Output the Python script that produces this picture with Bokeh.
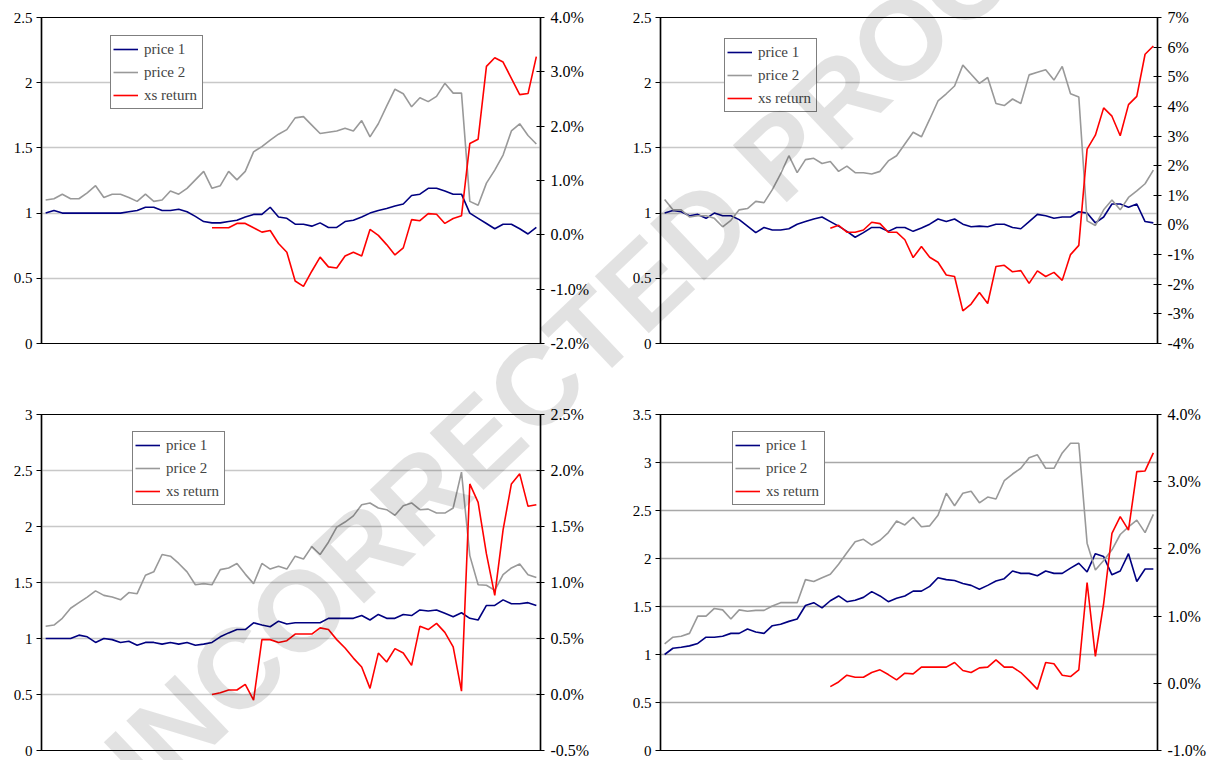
from bokeh.plotting import figure
from bokeh.models import (LinearAxis, Range1d, FixedTicker, PrintfTickFormatter,
                          CustomJSTickFormatter, Legend, LegendItem, Div)
from bokeh.layouts import gridplot, column
from bokeh.embed import file_html
from bokeh.resources import INLINE

# ---------------- data ----------------
months = list(range(60))
xs_months = list(range(20, 60))

p1_price1 = [1.00, 1.02, 1.00, 1.00, 1.00, 1.00, 1.00, 1.00, 1.00, 1.00,
             1.01, 1.02, 1.045, 1.045, 1.02, 1.02, 1.03, 1.01, 0.975, 0.935,
             0.925, 0.925, 0.935, 0.945, 0.97, 0.99, 0.99, 1.045, 0.97, 0.96,
             0.915, 0.915, 0.90, 0.925, 0.89, 0.89, 0.935, 0.945, 0.97, 1.00,
             1.02, 1.035, 1.055, 1.07, 1.135, 1.145, 1.19, 1.19, 1.17, 1.145,
             1.145, 1.00, 0.96, 0.92, 0.88, 0.915, 0.915, 0.88, 0.84, 0.89]
p1_price2 = [1.10, 1.11, 1.145, 1.11, 1.11, 1.155, 1.21, 1.12, 1.145, 1.145,
             1.12, 1.09, 1.145, 1.09, 1.10, 1.17, 1.145, 1.19, 1.255, 1.32,
             1.19, 1.21, 1.32, 1.255, 1.32, 1.47, 1.51, 1.56, 1.605, 1.64,
             1.73, 1.74, 1.675, 1.61, 1.62, 1.63, 1.65, 1.63, 1.71, 1.585,
             1.685, 1.82, 1.95, 1.915, 1.815, 1.885, 1.855, 1.895, 1.995, 1.92,
             1.92, 1.09, 1.06, 1.23, 1.33, 1.445, 1.63, 1.685, 1.595, 1.53]
p1_xs = [0.13, 0.13, 0.13, 0.21, 0.21, 0.13, 0.05, 0.08, -0.16, -0.32,
         -0.85, -0.95, -0.67, -0.41, -0.59, -0.61, -0.39, -0.32, -0.39, 0.10,
         -0.01, -0.18, -0.37, -0.24, 0.28, 0.26, 0.39, 0.38, 0.21, 0.30,
         0.35, 1.68, 1.76, 3.10, 3.26, 3.18, 2.88, 2.58, 2.60, 3.28]

p2_price1 = [1.00, 1.02, 1.01, 0.98, 0.99, 0.96, 1.00, 0.98, 0.98, 0.95,
             0.90, 0.85, 0.89, 0.87, 0.87, 0.88, 0.915, 0.935, 0.955, 0.97,
             0.935, 0.90, 0.86, 0.815, 0.85, 0.89, 0.89, 0.86, 0.89, 0.89,
             0.86, 0.885, 0.915, 0.955, 0.935, 0.955, 0.915, 0.895, 0.90, 0.895,
             0.915, 0.915, 0.89, 0.88, 0.935, 0.99, 0.98, 0.96, 0.97, 0.97,
             1.01, 1.00, 0.925, 0.97, 1.07, 1.07, 1.045, 1.07, 0.935, 0.925]
p2_price2 = [1.105, 1.025, 1.025, 0.97, 0.98, 0.98, 0.96, 0.895, 0.945, 1.025,
             1.035, 1.09, 1.08, 1.18, 1.30, 1.44, 1.31, 1.41, 1.42, 1.38,
             1.395, 1.32, 1.36, 1.31, 1.31, 1.30, 1.32, 1.40, 1.44, 1.53,
             1.62, 1.585, 1.72, 1.86, 1.915, 1.975, 2.135, 2.065, 1.995, 2.04,
             1.84, 1.825, 1.875, 1.84, 2.06, 2.08, 2.10, 2.02, 2.125, 1.915,
             1.89, 0.94, 0.905, 1.025, 1.10, 1.025, 1.12, 1.17, 1.225, 1.33]
p2_xs = [-0.11, -0.01, -0.245, -0.245, -0.17, 0.09, 0.045, -0.245, -0.245, -0.50,
         -1.10, -0.73, -1.09, -1.26, -1.69, -1.74, -2.90, -2.67, -2.28, -2.65,
         -1.40, -1.36, -1.58, -1.54, -1.97, -1.55, -1.74, -1.60, -1.87, -1.00,
         -0.69, 2.56, 3.03, 3.95, 3.67, 3.01, 4.06, 4.34, 5.76, 6.04]

p3_price1 = [1.00, 1.00, 1.00, 1.00, 1.03, 1.015, 0.965, 1.00, 0.99, 0.965,
             0.975, 0.94, 0.965, 0.965, 0.95, 0.965, 0.95, 0.965, 0.94, 0.95,
             0.965, 1.015, 1.05, 1.08, 1.08, 1.14, 1.12, 1.105, 1.155, 1.13,
             1.14, 1.14, 1.14, 1.14, 1.18, 1.18, 1.18, 1.18, 1.205, 1.165,
             1.215, 1.18, 1.18, 1.215, 1.205, 1.255, 1.245, 1.255, 1.225, 1.195,
             1.23, 1.18, 1.165, 1.295, 1.295, 1.345, 1.31, 1.31, 1.32, 1.295]
p3_price2 = [1.11, 1.12, 1.18, 1.27, 1.32, 1.37, 1.425, 1.385, 1.37, 1.345,
             1.41, 1.40, 1.565, 1.595, 1.75, 1.735, 1.67, 1.595, 1.48, 1.49,
             1.48, 1.615, 1.63, 1.67, 1.575, 1.49, 1.67, 1.62, 1.645, 1.62,
             1.735, 1.71, 1.82, 1.75, 1.86, 1.995, 2.04, 2.095, 2.195, 2.21,
             2.165, 2.15, 2.10, 2.185, 2.21, 2.15, 2.155, 2.12, 2.12, 2.165,
             2.485, 1.74, 1.48, 1.475, 1.43, 1.57, 1.63, 1.665, 1.57, 1.545]
p3_xs = [0.00, 0.015, 0.04, 0.04, 0.09, -0.05, 0.49, 0.49, 0.465, 0.48,
         0.54, 0.54, 0.54, 0.595, 0.58, 0.49, 0.415, 0.325, 0.245, 0.055,
         0.37, 0.29, 0.41, 0.37, 0.26, 0.61, 0.58, 0.635, 0.555, 0.425,
         0.03, 1.88, 1.715, 1.255, 0.885, 1.47, 1.88, 1.97, 1.68, 1.695]

p4_price1 = [1.00, 1.065, 1.075, 1.09, 1.115, 1.18, 1.18, 1.19, 1.22, 1.22,
             1.265, 1.235, 1.22, 1.30, 1.315, 1.345, 1.37, 1.51, 1.54, 1.485,
             1.56, 1.61, 1.55, 1.565, 1.595, 1.655, 1.61, 1.55, 1.585, 1.61,
             1.66, 1.66, 1.71, 1.80, 1.78, 1.77, 1.74, 1.72, 1.68, 1.72,
             1.765, 1.79, 1.87, 1.845, 1.845, 1.82, 1.87, 1.845, 1.845, 1.90,
             1.95, 1.86, 2.05, 2.02, 1.83, 1.87, 2.05, 1.76, 1.89, 1.89]
p4_price2 = [1.11, 1.18, 1.19, 1.22, 1.40, 1.40, 1.48, 1.465, 1.37, 1.465,
             1.45, 1.46, 1.46, 1.505, 1.54, 1.54, 1.54, 1.78, 1.76, 1.80,
             1.835, 1.94, 2.06, 2.175, 2.20, 2.14, 2.19, 2.27, 2.39, 2.35,
             2.43, 2.33, 2.34, 2.45, 2.68, 2.55, 2.68, 2.70, 2.58, 2.64,
             2.62, 2.81, 2.88, 2.94, 3.05, 3.08, 2.94, 2.94, 3.10, 3.20,
             3.20, 2.16, 1.88, 1.98, 2.09, 2.25, 2.33, 2.40, 2.27, 2.46]
p4_xs = [-0.05, 0.02, 0.12, 0.09, 0.09, 0.16, 0.20, 0.13, 0.05, 0.15,
         0.14, 0.24, 0.24, 0.24, 0.24, 0.31, 0.19, 0.16, 0.23, 0.24,
         0.35, 0.24, 0.24, 0.16, 0.04, -0.09, 0.31, 0.29, 0.12, 0.10,
         0.20, 1.50, 0.40, 1.19, 2.23, 2.48, 2.28, 3.15, 3.16, 3.43]

labels = ["price 1", "price 2", "xs return"]
watermark_text = "UNCORRECTED PROOF"

left_ticks = {1: [0, 0.5, 1, 1.5, 2, 2.5], 2: [0, 0.5, 1, 1.5, 2, 2.5],
              3: [0, 0.5, 1, 1.5, 2, 2.5, 3], 4: [0, 0.5, 1, 1.5, 2, 2.5, 3, 3.5]}
right_ticks = {1: [-2, -1, 0, 1, 2, 3, 4],
               2: [-4, -3, -2, -1, 0, 1, 2, 3, 4, 5, 6, 7],
               3: [-0.5, 0, 0.5, 1.0, 1.5, 2.0, 2.5],
               4: [-1, 0, 1, 2, 3, 4]}
right_fmt = {1: "%.1f%%", 2: "%d%%", 3: "%.1f%%", 4: "%.1f%%"}

SERIF = "Liberation Serif"
C1, C2, C3 = "#000080", "#999999", "#ff0000"

# page-space layout of each panel: fig origin, size, frame box
# (fig_x, fig_y, W, H, frame_left, frame_top, frame_w, frame_h)
layout = {
    1: (0, 0, 613, 378, 40, 17, 500, 326),
    2: (613, 0, 597, 378, 658, 17, 504, 326),
    3: (0, 378, 613, 382, 41, 414, 499, 336),
    4: (613, 378, 597, 382, 660, 414, 497, 336),
}
legend_pos = {1: (69, 234), 2: (64, 231), 3: (91, 245), 4: (72, 245)}
grid_col = {1: "#c8c8c8", 2: "#c8c8c8", 3: "#c8c8c8", 4: "#a8a8a8"}

WM_CX, WM_CY = 617, 390
WM_W, WM_H = 1400, 140


def make_panel(k, price1, price2, xs):
    fx, fy, W, H, fl, ft, fw, fh = layout[k]
    ymax = left_ticks[k][-1]
    rt = right_ticks[k]
    p = figure(width=W, height=H, x_range=Range1d(-0.5, 59.5),
               y_range=Range1d(0, ymax), x_axis_location=None,
               toolbar_location=None, output_backend="svg",
               min_border_left=fl - fx, min_border_top=ft - fy,
               min_border_right=W - (fl - fx) - fw,
               min_border_bottom=H - (ft - fy) - fh,
               background_fill_color="white", border_fill_color="white")
    p.outline_line_color = "black"
    p.outline_line_width = 1.2
    p.xgrid.visible = False
    p.ygrid.ticker = FixedTicker(ticks=left_ticks[k])
    p.ygrid.grid_line_color = grid_col[k]
    p.ygrid.grid_line_width = 1.5

    ax = p.yaxis[0]
    ax.ticker = FixedTicker(ticks=left_ticks[k])
    ax.formatter = CustomJSTickFormatter(code="return tick.toString();")
    ax.major_label_text_font = SERIF
    ax.major_label_text_font_size = "15px"
    ax.major_label_text_color = "black"
    ax.major_tick_out = 5
    ax.major_tick_in = 0
    ax.minor_tick_line_color = None
    ax.axis_line_width = 1.5
    ax.major_tick_line_width = 1.2
    ax.major_label_standoff = 4

    p.extra_y_ranges = {"ret": Range1d(rt[0], rt[-1])}
    rax = LinearAxis(y_range_name="ret", ticker=FixedTicker(ticks=rt),
                     formatter=PrintfTickFormatter(format=right_fmt[k]))
    rax.major_label_text_font = SERIF
    rax.major_label_text_font_size = "16px"
    rax.major_label_text_color = "black"
    rax.major_tick_out = 4
    rax.major_tick_in = 4
    rax.minor_tick_line_color = None
    rax.axis_line_width = 1.5
    rax.major_tick_line_width = 1.2
    rax.major_label_standoff = 6
    p.add_layout(rax, "right")

    r1 = p.line(months, price1, line_color=C1, line_width=1.6)
    r2 = p.line(months, price2, line_color=C2, line_width=1.6)
    r3 = p.line(xs_months, xs, line_color=C3, line_width=1.6, y_range_name="ret")

    leg = Legend(items=[LegendItem(label=labels[0], renderers=[r1]),
                        LegendItem(label=labels[1], renderers=[r2]),
                        LegendItem(label=labels[2], renderers=[r3])],
                 location=legend_pos[k])
    leg.border_line_color = "black"
    leg.border_line_width = 1.5
    leg.background_fill_color = "white"
    leg.background_fill_alpha = 1.0
    leg.label_text_font = SERIF
    leg.label_text_font_size = "15px"
    leg.glyph_width = 25
    leg.glyph_height = 22
    leg.label_height = 22
    leg.label_width = 56
    leg.label_standoff = 6
    leg.padding = 2
    leg.spacing = 1
    leg.margin = 0
    p.add_layout(leg)
    return p


p1 = make_panel(1, p1_price1, p1_price2, p1_xs)
p2 = make_panel(2, p2_price1, p2_price2, p2_xs)
p3 = make_panel(3, p3_price1, p3_price2, p3_xs)
p4 = make_panel(4, p4_price1, p4_price2, p4_xs)

grid = gridplot([[p1, p2], [p3, p4]], toolbar_location=None)

# translucent diagonal proof stamp laid over the whole page
wm = Div(text=watermark_text, width=WM_W, height=WM_H,
         styles={"position": "absolute",
                 "left": f"{WM_CX - WM_W // 2}px",
                 "top": f"{WM_CY - WM_H // 2}px",
                 "transform": "rotate(-43.5deg)",
                 "font-family": "Liberation Sans, Arial, sans-serif",
                 "font-weight": "bold",
                 "font-size": "114px",
                 "line-height": f"{WM_H}px",
                 "text-align": "center",
                 "white-space": "nowrap",
                 "color": "rgba(0,0,0,0.115)",
                 "pointer-events": "none",
                 "z-index": "10"})

root = column(grid, wm, styles={"position": "relative", "overflow": "hidden"})

open("out.html", "w").write(file_html(root, INLINE))
